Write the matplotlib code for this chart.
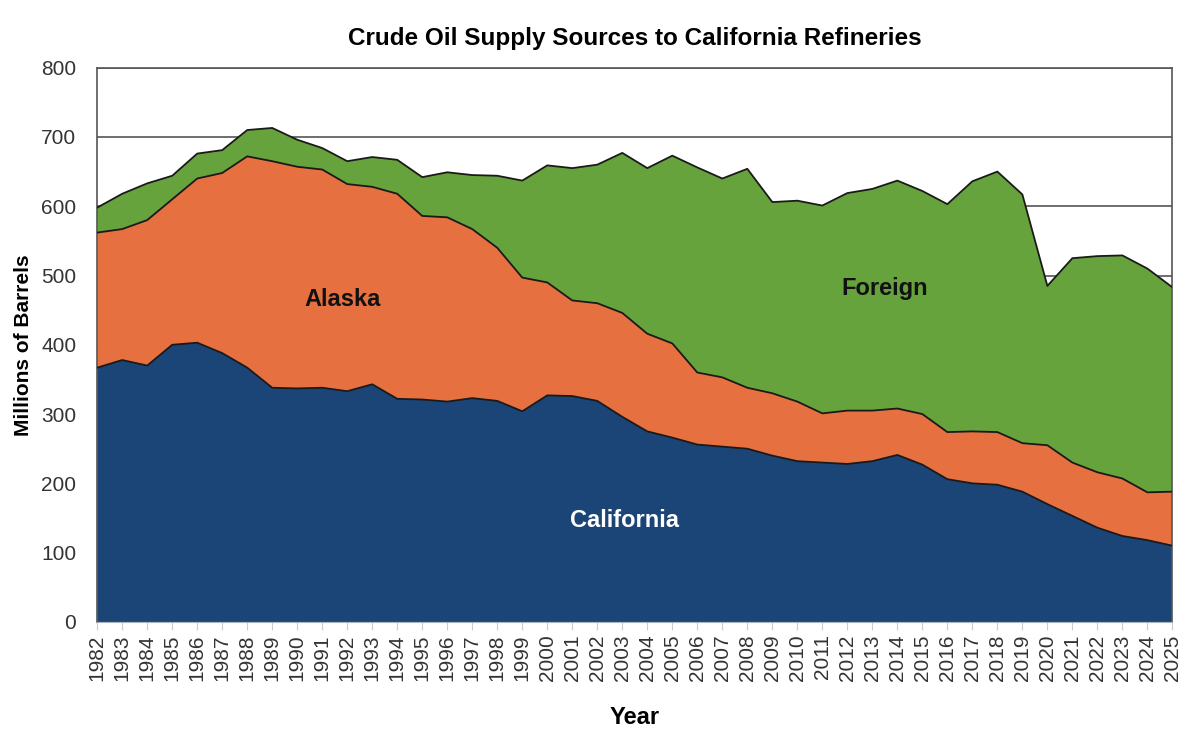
import numpy as np
import matplotlib
matplotlib.use('Agg')
import matplotlib.pyplot as plt

plt.rcParams['font.family'] = ['Liberation Sans', 'DejaVu Sans']

# DATA (millions of barrels)
years = list(range(1982, 2026))

california = [367, 378, 370, 400, 403, 388, 367, 338, 337, 338,
              333, 343, 322, 321, 318, 323, 319, 304, 327, 326,
              319, 296, 275, 266, 256, 253, 250, 240, 232, 230,
              228, 232, 241, 227, 206, 200, 198, 188, 170, 153,
              136, 124, 118, 110]

cal_plus_alaska = [562, 567, 580, 610, 640, 648, 672, 665, 657, 653,
                   632, 628, 618, 586, 584, 567, 540, 497, 490, 464,
                   460, 446, 416, 402, 360, 353, 338, 330, 318, 301,
                   305, 305, 308, 300, 274, 275, 274, 258, 255, 230,
                   216, 207, 187, 188]

total = [598, 618, 633, 644, 676, 681, 710, 713, 696, 684,
         665, 671, 667, 642, 649, 645, 644, 637, 659, 655,
         660, 677, 655, 673, 656, 640, 654, 606, 608, 601,
         619, 625, 637, 622, 603, 636, 650, 617, 485, 525,
         528, 529, 510, 483]

yr = np.array(years)
cal = np.array(california)
alaska = np.array(cal_plus_alaska) - cal
foreign = np.array(total) - np.array(cal_plus_alaska)

C_BLUE = '#1c4577'
C_ORANGE = '#e6703f'
C_GREEN = '#67a33c'

# FIGURE
fig = plt.figure(figsize=(12, 7.52), dpi=100)
ax = fig.add_axes([0.081, 0.173, 0.896, 0.737])

ax.stackplot(yr, cal, alaska, foreign,
             colors=[C_BLUE, C_ORANGE, C_GREEN], linewidth=0, zorder=2)
for line in (cal, cal + alaska, cal + alaska + foreign):
    ax.plot(yr, line, color='#1a1a1a', lw=1.3, zorder=3)

ax.set_xlim(1982, 2025)
ax.set_ylim(0, 800)
ax.set_yticks(range(0, 801, 100))
ax.set_xticks(years)
ax.set_xticklabels([str(y) for y in years], rotation=90)
ax.yaxis.grid(True, color='#555555', lw=1.2, zorder=1)
ax.set_axisbelow(True)

ax.tick_params(axis='y', length=0, labelsize=15, pad=15, colors='#333333')
ax.tick_params(axis='x', length=6, color='#cccccc', labelsize=15, pad=3,
               labelcolor='#333333')
for side in ('left', 'top', 'right'):
    ax.spines[side].set_color('#555555')
    ax.spines[side].set_linewidth(1.2)
ax.spines['bottom'].set_color('#aab4c0')

ax.set_title('Crude Oil Supply Sources to California Refineries',
             fontsize=17.5, fontweight='bold', pad=16)
ax.set_ylabel('Millions of Barrels', fontsize=15, fontweight='bold', labelpad=6)
ax.set_xlabel('Year', fontsize=17, fontweight='bold', labelpad=18)

# area labels
ax.text(1991.8, 465, 'Alaska', fontsize=17, fontweight='bold', color='#111111',
        ha='center', va='center', zorder=4)
ax.text(2013.5, 481, 'Foreign', fontsize=17, fontweight='bold', color='#111111',
        ha='center', va='center', zorder=4)
ax.text(2003.1, 146, 'California', fontsize=17, fontweight='bold', color='white',
        ha='center', va='center', zorder=4)

fig.savefig('out.png', dpi=100)
